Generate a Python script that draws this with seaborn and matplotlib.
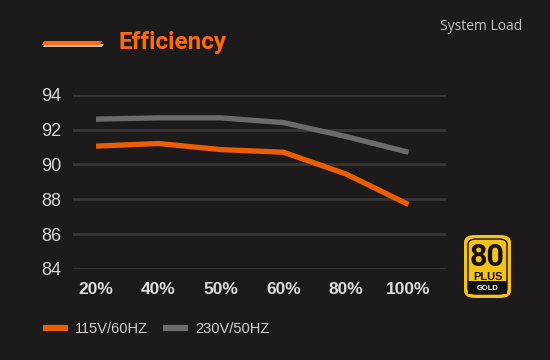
import matplotlib
matplotlib.use("Agg")
import matplotlib.pyplot as plt
import seaborn as sns
import pandas as pd
from matplotlib.patches import FancyBboxPatch, Polygon, Rectangle
from matplotlib.lines import Line2D

loads = ["20%", "40%", "50%", "60%", "80%", "100%"]
eff_115 = [91.05, 91.2, 90.85, 90.7, 89.45, 87.7]
eff_230 = [92.6, 92.67, 92.67, 92.4, 91.6, 90.7]
series_names = ["115V/60HZ", "230V/50HZ"]
yticks = [84, 86, 88, 90, 92, 94]

BG = "#1c1a1a"
ORANGE = "#ec5e04"
GRAY = "#6c6b6b"

df = pd.DataFrame({
    "x": list(range(len(loads))) * 2,
    "load": loads * 2,
    "eff": eff_115 + eff_230,
    "series": [series_names[0]] * len(loads) + [series_names[1]] * len(loads),
})

sns.set_theme(style="dark")
plt.rcParams["font.family"] = ["Liberation Sans", "DejaVu Sans"]

fig = plt.figure(figsize=(5.5, 3.6), dpi=100, facecolor=BG)
W, H = 550, 360
ax = fig.add_axes([73 / W, (H - 269) / H, (446 - 73) / W, (269 - 94.7) / H])
ax.set_facecolor("none")

sns.lineplot(data=df, x="x", y="eff", hue="series", hue_order=series_names,
             palette=[ORANGE, GRAY], linewidth=3.8, ax=ax, legend=False,
             sort=False, estimator=None)
for ln in ax.lines:
    ln.set_clip_on(False)
    ln.set_solid_capstyle("butt")
    ln.set_solid_joinstyle("miter")

step = 62.5
ax.set_xlim(-(96 - 73) / step, (446 - 96) / step)
ax.set_ylim(84, 94)
ax.set_yticks(yticks)
ax.set_yticklabels([str(t) for t in yticks], color="#d6d6d6", fontsize=13)
ax.set_xticks(range(len(loads)))
ax.set_xticklabels(loads, color="#dcdcdc", fontsize=12.5, fontweight="bold")
ax.tick_params(axis="y", length=0, pad=8.5)
ax.tick_params(axis="x", length=0, pad=9)
ax.grid(axis="y", color="#383737", linewidth=2)
ax.grid(axis="x", visible=False)
for s in ax.spines.values():
    s.set_visible(False)
ax.set_xlabel("")
ax.set_ylabel("")
ax.set_axisbelow(True)

# title + decoration
fig.text(119 / W, 1 - 43 / H, "Efficiency", color="#ff6a0a", fontsize=17.5,
         fontweight="bold", family=["Roboto", "DejaVu Sans"], va="center", ha="left")
fig.patches.append(Polygon([[45 / W, 1 - 44 / H], [104 / W, 1 - 44 / H], [102 / W, 1 - 47 / H], [43 / W, 1 - 47 / H]],
                           closed=True, transform=fig.transFigure, facecolor="#bdbdbd", edgecolor="none"))
fig.patches.append(Polygon([[44 / W, 1 - 41 / H], [102 / W, 1 - 41 / H], [100 / W, 1 - 45 / H], [42 / W, 1 - 45 / H]],
                           closed=True, transform=fig.transFigure, facecolor="#ff6a0a", edgecolor="none"))

fig.text(522 / W, 1 - 27 / H, "System Load", color="#c4c4c4", fontsize=10,
         family=["Open Sans", "DejaVu Sans"], va="center", ha="right")

# legend
handles = [Line2D([], [], color=ORANGE, linewidth=4.5, solid_capstyle="butt"),
           Line2D([], [], color=GRAY, linewidth=4.5, solid_capstyle="butt")]
fig.legend(handles, series_names, loc="center left", bbox_to_anchor=(30 / W, 1 - 329 / H),
           ncol=2, frameon=False, fontsize=10.5, labelcolor="#d0d0d0",
           handlelength=1.7, handletextpad=0.5, columnspacing=1.0)

# 80 PLUS GOLD badge
bx, by, bw, bh = 464, 235, 47, 63
fig.patches.append(FancyBboxPatch((bx / W, 1 - (by + bh) / H), bw / W, bh / H,
                                  boxstyle="round,pad=0,rounding_size=0.02",
                                  transform=fig.transFigure, facecolor="#f5c21b", edgecolor="none"))
fig.patches.append(FancyBboxPatch(((bx + 4) / W, 1 - (by + bh - 4) / H), (bw - 8) / W, (bh - 8) / H,
                                  boxstyle="round,pad=0,rounding_size=0.015",
                                  transform=fig.transFigure, facecolor="#f5c21b", edgecolor="#111111", linewidth=1))
fig.patches.append(Rectangle(((bx + 4) / W, 1 - (by + bh - 4) / H), (bw - 8) / W, 13 / H,
                             transform=fig.transFigure, facecolor="#111111", edgecolor="none"))
fig.text((bx + bw / 2) / W, 1 - (by + 22) / H, "80", color="#111111", fontsize=22,
         fontweight="bold", fontstretch="condensed",
         family=["Liberation Sans Narrow", "Roboto", "DejaVu Sans"], ha="center", va="center")
fig.text((bx + bw / 2) / W, 1 - (by + 42) / H, "PLUS", color="#111111", fontsize=8,
         fontweight="bold", ha="center", va="center")
fig.text((bx + bw / 2) / W, 1 - (by + 53) / H, "GOLD", color="#ffffff", fontsize=5.5,
         fontweight="bold", ha="center", va="center")

fig.savefig("out.png", dpi=100, facecolor=BG)
